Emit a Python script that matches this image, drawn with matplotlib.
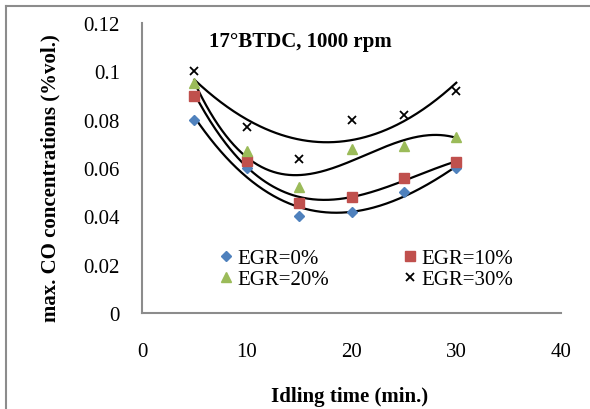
import numpy as np
import matplotlib
matplotlib.use("Agg")
import matplotlib.pyplot as plt
from matplotlib.lines import Line2D

# --- Data ---
idling_time = [5, 10, 15, 20, 25, 30]
egr_0 = [0.080, 0.060, 0.040, 0.042, 0.050, 0.060]
egr_10 = [0.090, 0.063, 0.0455, 0.048, 0.056, 0.0623]
egr_20 = [0.095, 0.067, 0.052, 0.068, 0.069, 0.073]
egr_30 = [0.100, 0.077, 0.0637, 0.080, 0.082, 0.092]
series_labels = ["EGR=0%", "EGR=10%", "EGR=20%", "EGR=30%"]
# polynomial order of each trendline
trend_order = [3, 3, 3, 2]

plt.rcParams['font.family'] = ['Liberation Serif', 'DejaVu Serif']

fig = plt.figure(figsize=(5.9, 4.1), dpi=100)
fig.set_facecolor('white')
ax = fig.add_axes([0.2407, 0.2341, 0.7102, 0.7073])

# outer chart border (only left and top visible in the crop)
fig.add_artist(Line2D([5.5 / 590, 5.5 / 590], [0, 1 - 7 / 410], color='#8c8c8c', lw=1.5))
fig.add_artist(Line2D([5.5 / 590, 1], [1 - 7 / 410, 1 - 7 / 410], color='#8c8c8c', lw=1.5))

styles = [
    dict(marker='D', color='#4F81BD', ms=5.5),
    dict(marker='s', color='#C0504D', ms=6.5),
    dict(marker='^', color='#9BBB59', ms=7.5),
    dict(marker='x', color='black', ms=5.5, mew=1.3),
]

x = np.array(idling_time)
xs = np.linspace(5, 30, 200)
handles = []
for vals, lab, st, deg in zip([egr_0, egr_10, egr_20, egr_30], series_labels, styles, trend_order):
    y = np.array(vals)
    # polynomial trendline, as in the spreadsheet chart
    coef = np.polyfit(x, y, deg)
    ax.plot(xs, np.polyval(coef, xs), color='black', lw=1.6, zorder=2)
    h, = ax.plot(x, y, linestyle='none', zorder=3, label=lab, **st)
    handles.append(h)

ax.set_xlim(0, 40)
ax.set_ylim(0, 0.12)
ax.set_xticks([0, 10, 20, 30, 40])
ax.set_yticks([0, 0.02, 0.04, 0.06, 0.08, 0.1, 0.12])
ax.set_yticklabels(["0", "0.02", "0.04", "0.06", "0.08", "0.1", "0.12"])
ax.tick_params(axis='both', length=0, labelsize=15)
ax.tick_params(axis='y', pad=16)
ax.tick_params(axis='x', pad=21)

for side in ['top', 'right']:
    ax.spines[side].set_visible(False)
for side in ['left', 'bottom']:
    ax.spines[side].set_color('#8c8c8c')
    ax.spines[side].set_linewidth(1.5)

ax.text(0.377, 0.938, "17°BTDC, 1000 rpm", transform=ax.transAxes,
        ha='center', va='center', fontsize=15, fontweight='bold')

fig.text(0.085, 0.5646, "max. CO concentrations (%vol.)", rotation=90,
         ha='center', va='center', fontsize=15, fontweight='bold')
fig.text(0.593, 0.032, "Idling time (min.)", ha='center', va='center',
         fontsize=15, fontweight='bold')

# legend order in reference: row 1 -> 0%, 10%; row 2 -> 20%, 30%
order = [0, 2, 1, 3]
ax.legend([handles[i] for i in order], [series_labels[i] for i in order],
          ncol=2, frameon=False, fontsize=15, loc='upper left',
          bbox_to_anchor=(0.165, 0.25), handlelength=0.6, handletextpad=0.25,
          columnspacing=3.6, labelspacing=0.05, borderaxespad=0)

fig.savefig("out.png", dpi=100, facecolor=fig.get_facecolor())
plt.close(fig)
